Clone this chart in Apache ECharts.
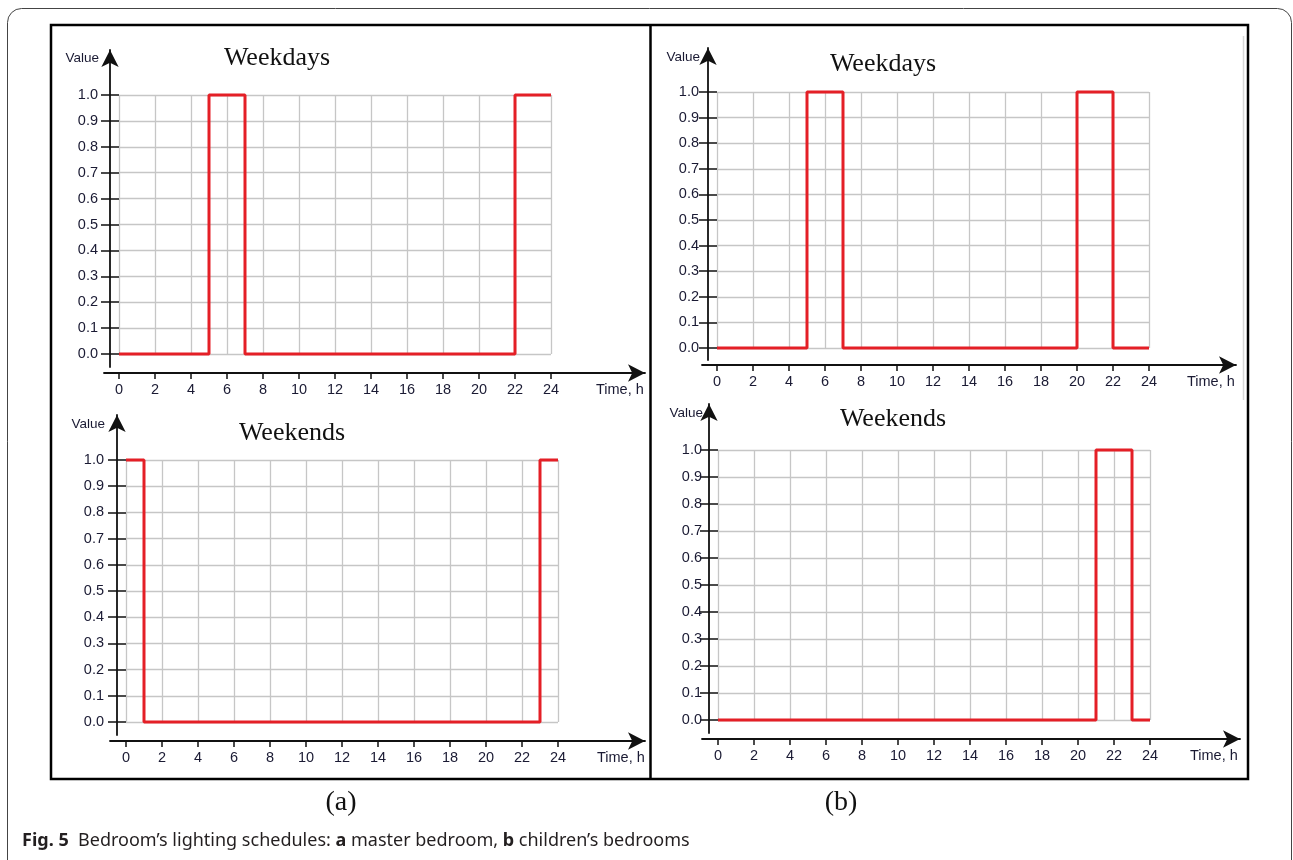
<!DOCTYPE html>
<html>
<head>
<meta charset="utf-8">
<script src="https://cdn.jsdelivr.net/npm/echarts@6/dist/echarts.min.js"></script>
<style>
  html, body { margin: 0; padding: 0; background: #fff; }
  #chart { width: 1293px; height: 860px; }
</style>
</head>
<body>
<div id="chart"></div>
<script>
// lighting on/off for each hour 0..23 (value holds until next hour)
const masterWeekdays = [0,0,0,0,0,1,1,0,0,0,0,0,0,0,0,0,0,0,0,0,0,0,1,1]
const masterWeekends = [1,0,0,0,0,0,0,0,0,0,0,0,0,0,0,0,0,0,0,0,0,0,0,1]
const childWeekdays  = [0,0,0,0,0,1,1,0,0,0,0,0,0,0,0,0,0,0,0,0,1,1,0,0]
const childWeekends  = [0,0,0,0,0,0,0,0,0,0,0,0,0,0,0,0,0,0,0,0,0,1,1,0]
const tickHours = [0,2,4,6,8,10,12,14,16,18,20,22,24]
const panelTitles = ['Weekdays', 'Weekends', 'Weekdays', 'Weekends']
const xName = 'Time, h'
const yName = 'Value'

// layout of each small plot (pixels)
const panels = [
  { data: masterWeekdays, grid: [119, 95, 432, 259], xArrow: [104, 373, 541], yArrow: [110, 50, 317], title: [277, 58], val: [99, 58], time: [596, 390] },
  { data: masterWeekends, grid: [126, 460, 432, 262], xArrow: [110, 741, 535], yArrow: [117, 415, 320], title: [292, 433], val: [105, 424], time: [597, 758] },
  { data: childWeekdays,  grid: [717, 92, 432, 256],  xArrow: [702, 365, 534], yArrow: [708, 48, 312],  title: [883, 64],  val: [700, 57],  time: [1187, 382] },
  { data: childWeekends,  grid: [718, 450, 432, 270], xArrow: [702, 739, 538], yArrow: [709, 404, 329], title: [893, 419], val: [703, 413], time: [1190, 756] }
]

const RED = '#e41f26'
const GRID = '#c6c6c6'
const INK = '#1a1a33'
const SANS = '"Liberation Sans", Arial, sans-serif'
const SERIF = '"Liberation Serif", "Times New Roman", serif'

const grids = [], xAxes = [], yAxes = [], series = [], graphics = []
const hidden = { show: false, type: 'value', min: 0, max: 1 }

panels.forEach((p, i) => {
  const g = grids.length
  const [gl, gt, gw, gh] = p.grid
  // data grid
  grids.push({ left: gl, top: gt, width: gw, height: gh })
  xAxes.push({
    gridIndex: g, type: 'value', min: 0, max: 24, interval: 2,
    axisLine: { show: false }, axisTick: { show: false }, axisLabel: { show: false },
    splitLine: { show: true, lineStyle: { color: GRID, width: 1.3 } }
  })
  yAxes.push({
    gridIndex: g, type: 'value', min: 0, max: 1, interval: 0.1,
    axisLine: { show: false },
    axisTick: { show: true, length: gl - p.yArrow[0] + 9, lineStyle: { color: '#111', width: 1.5 } },
    axisLabel: { margin: gl - p.val[0] + 1, color: INK, fontSize: 14.5, fontFamily: SANS, formatter: v => v.toFixed(1) },
    splitLine: { show: true, lineStyle: { color: GRID, width: 1.3 } }
  })
  const pts = p.data.map((v, h) => [h, v])
  pts.push([24, p.data[p.data.length - 1]])
  series.push({
    type: 'line', xAxisIndex: g, yAxisIndex: g, step: 'end', data: pts,
    showSymbol: false, clip: false, z: 5,
    lineStyle: { color: RED, width: 3 }
  })

  // frame grid for the x arrow, same hour scale as the data grid
  const [xl, xy, xw] = p.xArrow
  const perHour = gw / 24
  grids.push({ left: xl, top: xy - 10, width: xw, height: 10 })
  xAxes.push({
    gridIndex: g + 1, type: 'value',
    min: -(gl - xl) / perHour, max: (xl + xw - gl) / perHour,
    axisLine: { show: true, symbol: ['none', 'arrow'], symbolSize: [13, 17], lineStyle: { color: '#111', width: 1.8 } },
    axisTick: { show: true, customValues: tickHours, length: 6, lineStyle: { color: '#111', width: 1.5 } },
    axisLabel: { show: true, customValues: tickHours, margin: 9, color: INK, fontSize: 14.5, fontFamily: SANS },
    splitLine: { show: false }
  })
  yAxes.push(Object.assign({ gridIndex: g + 1 }, hidden))

  // frame grid for the y arrow
  const [yl, yt, yh] = p.yArrow
  grids.push({ left: yl, top: yt, width: 10, height: yh })
  xAxes.push(Object.assign({ gridIndex: g + 2 }, hidden))
  yAxes.push({
    gridIndex: g + 2, type: 'value', min: 0, max: 1,
    axisLine: { show: true, symbol: ['none', 'arrow'], symbolSize: [13, 17], lineStyle: { color: '#111', width: 1.8 } },
    axisTick: { show: false }, axisLabel: { show: false }, splitLine: { show: false }
  })

  graphics.push(
    { type: 'text', x: p.title[0], y: p.title[1], style: { text: panelTitles[i], font: '26px ' + SERIF, fill: '#111', align: 'center', verticalAlign: 'middle' } },
    { type: 'text', x: p.val[0], y: p.val[1], style: { text: yName, font: '13.5px ' + SANS, fill: INK, align: 'right', verticalAlign: 'middle' } },
    { type: 'text', x: p.time[0], y: p.time[1], style: { text: xName, font: '14.5px ' + SANS, fill: INK, align: 'left', verticalAlign: 'middle' } }
  )
})

graphics.push(
  // outer rounded page frame
  { type: 'rect', shape: { x: 7.5, y: 8.5, width: 1284, height: 900, r: 14 }, style: { fill: 'none', stroke: '#444', lineWidth: 1 }, z: -1 },
  // black box around both figures
  { type: 'rect', shape: { x: 51, y: 25, width: 1197, height: 754 }, style: { fill: 'none', stroke: '#000', lineWidth: 2.5 } },
  { type: 'line', shape: { x1: 650.5, y1: 25, x2: 650.5, y2: 779 }, style: { stroke: '#000', lineWidth: 2.5 } },
  { type: 'line', shape: { x1: 1243.5, y1: 36, x2: 1243.5, y2: 400 }, style: { stroke: '#d6d6d6', lineWidth: 1.5 } },
  { type: 'text', x: 341, y: 803, style: { text: '(a)', font: '28px ' + SERIF, fill: '#111', align: 'center', verticalAlign: 'middle' } },
  { type: 'text', x: 841, y: 803, style: { text: '(b)', font: '28px ' + SERIF, fill: '#111', align: 'center', verticalAlign: 'middle' } },
  {
    type: 'text', x: 22, y: 841,
    style: {
      text: '{b|Fig. 5}  Bedroom\u2019s lighting schedules: {b|a} master bedroom, {b|b} children\u2019s bedrooms',
      font: '18px "Noto Sans", sans-serif', fill: '#231f20', align: 'left', verticalAlign: 'middle',
      rich: { b: { fontWeight: 'bold', fontSize: 18, fontFamily: '"Noto Sans", sans-serif', fill: '#231f20' } }
    }
  }
)

const chart = echarts.init(document.getElementById('chart'))
chart.setOption({
  animation: false,
  backgroundColor: '#fff',
  grid: grids,
  xAxis: xAxes,
  yAxis: yAxes,
  series: series,
  graphic: graphics
})
</script>
</body>
</html>
